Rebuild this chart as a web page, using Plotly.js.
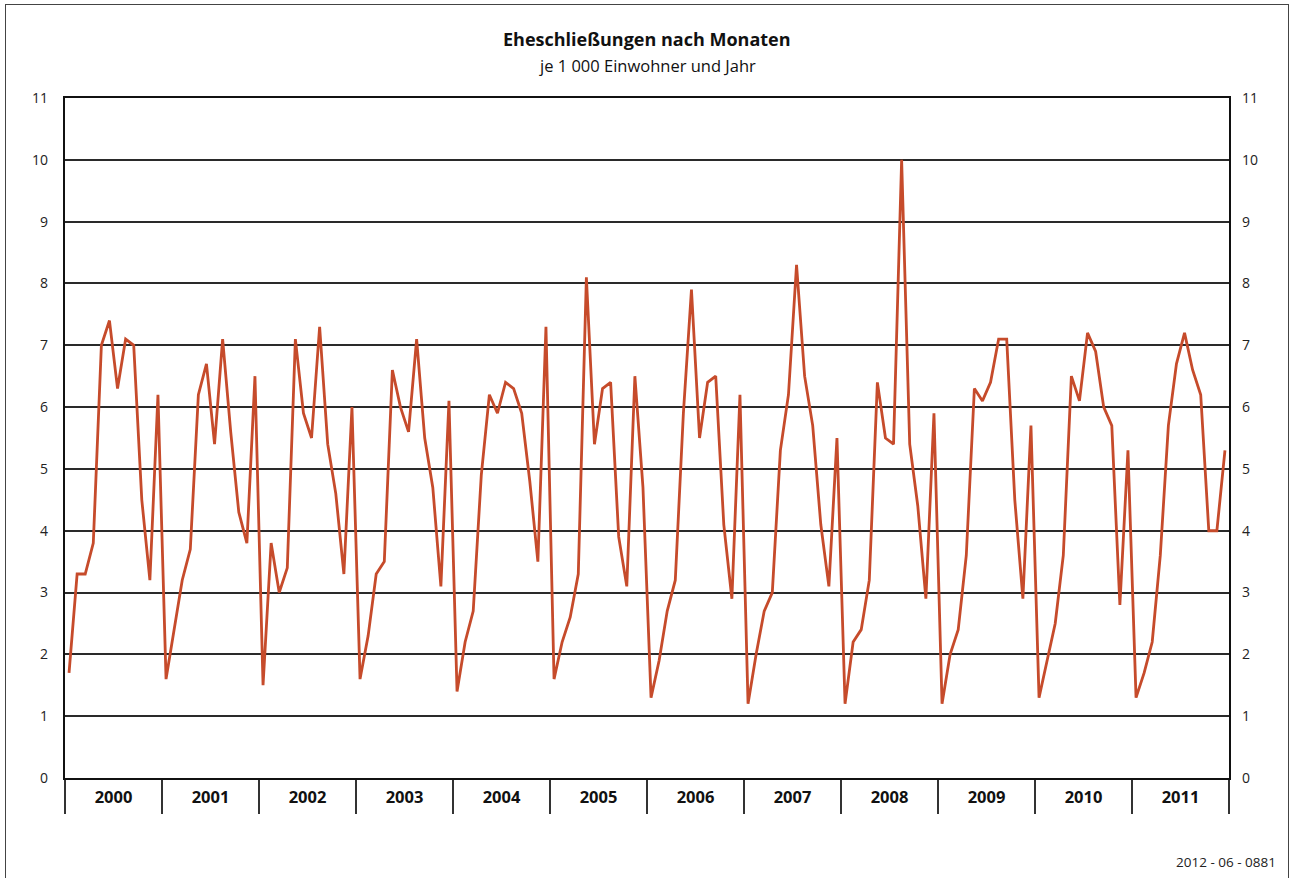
<!DOCTYPE html>
<html>
<head>
<meta charset="utf-8">
<script src="https://cdn.plot.ly/plotly-3.0.1.min.js"></script>
<style>
  html, body { margin:0; padding:0; background:#fff; }
  #chart { width:1295px; height:878px; position:relative; }
  #frame { position:absolute; left:5px; top:4px; width:1282px; height:900px; border:1.5px solid #444; border-bottom:none; pointer-events:none; }
</style>
</head>
<body>
<div id="chart"></div>
<div id="frame"></div>
<script>
// Eheschließungen je 1 000 Einwohner und Jahr, monthly (Jan..Dec)
const years = [2000, 2001, 2002, 2003, 2004, 2005, 2006, 2007, 2008, 2009, 2010, 2011];
const v2000 = [1.7, 3.3, 3.3, 3.8, 7.0, 7.4, 6.3, 7.1, 7.0, 4.5, 3.2, 6.2];
const v2001 = [1.6, 2.4, 3.2, 3.7, 6.2, 6.7, 5.4, 7.1, 5.6, 4.3, 3.8, 6.5];
const v2002 = [1.5, 3.8, 3.0, 3.4, 7.1, 5.9, 5.5, 7.3, 5.4, 4.6, 3.3, 6.0];
const v2003 = [1.6, 2.3, 3.3, 3.5, 6.6, 6.0, 5.6, 7.1, 5.5, 4.7, 3.1, 6.1];
const v2004 = [1.4, 2.2, 2.7, 4.9, 6.2, 5.9, 6.4, 6.3, 5.9, 4.8, 3.5, 7.3];
const v2005 = [1.6, 2.2, 2.6, 3.3, 8.1, 5.4, 6.3, 6.4, 3.9, 3.1, 6.5, 4.7];
const v2006 = [1.3, 1.9, 2.7, 3.2, 5.9, 7.9, 5.5, 6.4, 6.5, 4.1, 2.9, 6.2];
const v2007 = [1.2, 2.0, 2.7, 3.0, 5.3, 6.2, 8.3, 6.5, 5.7, 4.1, 3.1, 5.5];
const v2008 = [1.2, 2.2, 2.4, 3.2, 6.4, 5.5, 5.4, 10.0, 5.4, 4.4, 2.9, 5.9];
const v2009 = [1.2, 2.0, 2.4, 3.6, 6.3, 6.1, 6.4, 7.1, 7.1, 4.5, 2.9, 5.7];
const v2010 = [1.3, 1.9, 2.5, 3.6, 6.5, 6.1, 7.2, 6.9, 6.0, 5.7, 2.8, 5.3];
const v2011 = [1.3, 1.7, 2.2, 3.6, 5.7, 6.7, 7.2, 6.6, 6.2, 4.0, 4.0, 5.3];
const yTicks = [0, 1, 2, 3, 4, 5, 6, 7, 8, 9, 10, 11];

const series = [v2000, v2001, v2002, v2003, v2004, v2005, v2006, v2007, v2008, v2009, v2010, v2011];
const yVals = series.flat();
// month slot positions (centre of each month within its year block)
const xVals = yVals.map((_, i) => i + 0.5);
const yearCentres = years.map((_, k) => k * 12 + 6);

const fontFam = '"Open Sans", "Noto Sans", sans-serif';

const traces = [
  { x: xVals, y: yVals, type: 'scatter', mode: 'lines',
    line: { color: '#c64b2b', width: 2.8 }, hoverinfo: 'skip', showlegend: false },
  { x: xVals, y: yVals, type: 'scatter', mode: 'lines', yaxis: 'y2',
    line: { color: 'rgba(0,0,0,0)', width: 0 }, hoverinfo: 'skip', showlegend: false }
];

const layout = {
  width: 1295, height: 878,
  margin: { l: 65, r: 66, t: 98, b: 100 },
  paper_bgcolor: '#fff', plot_bgcolor: '#fff',
  font: { family: fontFam, color: '#222', size: 14 },
  showlegend: false,
  xaxis: {
    range: [0, years.length * 12],
    tickmode: 'array', tickvals: yearCentres, ticktext: years.map(String),
    ticks: '', showgrid: false, zeroline: false,
    showline: true, mirror: true, linecolor: '#111', linewidth: 2.4,
    tickfont: { family: fontFam, size: 16.5, color: '#111', weight: 'bold' },
    ticklabelstandoff: 3,
    minor: { tick0: 0, dtick: 12, ticks: 'outside', ticklen: 34, tickwidth: 2, tickcolor: '#333', showgrid: false },
    fixedrange: true
  },
  yaxis: {
    range: [0, 11], tickmode: 'array', tickvals: yTicks,
    showgrid: true, gridcolor: '#2a2a2a', gridwidth: 2,
    zeroline: false, ticks: '',
    showline: true, mirror: true, linecolor: '#111', linewidth: 2.2,
    tickfont: { family: fontFam, size: 14, color: '#222' },
    ticklabelstandoff: 12,
    fixedrange: true
  },
  yaxis2: {
    range: [0, 11], tickmode: 'array', tickvals: yTicks,
    overlaying: 'y', side: 'right', showgrid: false, zeroline: false, ticks: '',
    tickfont: { family: fontFam, size: 14, color: '#222' },
    ticklabelstandoff: 12,
    fixedrange: true
  },
  annotations: [
    { text: '<b>Eheschließungen nach Monaten</b>', xref: 'paper', yref: 'paper',
      x: 0.5, y: 1.087, xanchor: 'center', yanchor: 'middle', showarrow: false,
      font: { family: fontFam, size: 18, color: '#111' } },
    { text: 'je 1 000 Einwohner und Jahr', xref: 'paper', yref: 'paper',
      x: 0.5, y: 1.048, xanchor: 'center', yanchor: 'middle', showarrow: false,
      font: { family: fontFam, size: 16.5, color: '#111' } },
    { text: '2012 - 06 - 0881', xref: 'paper', yref: 'paper',
      x: 1.042, y: -0.1235, xanchor: 'right', yanchor: 'middle', showarrow: false,
      font: { family: fontFam, size: 13.5, color: '#222' } }
  ]
};

Plotly.newPlot('chart', traces, layout, { staticPlot: true, displayModeBar: false });
</script>
</body>
</html>
